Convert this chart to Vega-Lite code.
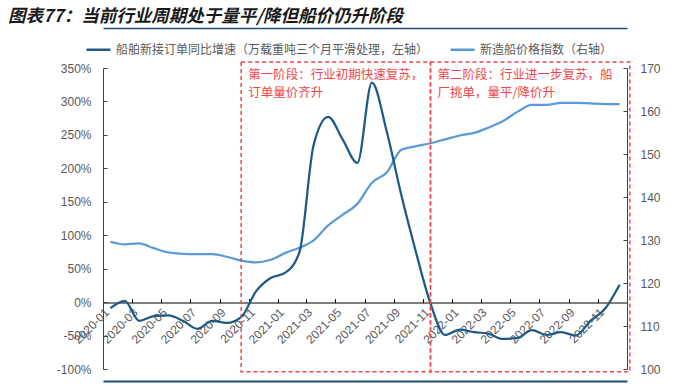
{
  "$schema": "https://vega.github.io/schema/vega-lite/v6.json",
  "width": 524,
  "height": 301,
  "autosize": "none",
  "padding": {"left": 103, "top": 68, "right": 69, "bottom": 17},
  "background": "white",
  "config": {
    "view": {"stroke": null},
    "font": "Noto Sans CJK SC",
    "axis": {"labelFont": "Liberation Sans", "labelFontSize": 12, "labelColor": "#595959", "grid": false, "title": null, "labelOverlap": false}
  },
  "title": {
    "text": "图表77：当前行业周期处于量平/降但船价仍升阶段",
    "anchor": "start",
    "frame": "group",
    "dx": -95,
    "offset": 3,
    "font": "Noto Sans CJK SC",
    "fontSize": 17.5,
    "fontWeight": "bold",
    "fontStyle": "italic",
    "color": "#1a1a1a"
  },
  "data": {
    "values": [
      {"m": "2020-01-01", "orders": -9, "price": 129.6},
      {"m": "2020-02-01", "orders": 2, "price": 129.0},
      {"m": "2020-03-01", "orders": -28, "price": 129.2},
      {"m": "2020-04-01", "orders": -21, "price": 128.1},
      {"m": "2020-05-01", "orders": -20, "price": 127.1},
      {"m": "2020-06-01", "orders": -28, "price": 126.8},
      {"m": "2020-07-01", "orders": -40, "price": 126.7},
      {"m": "2020-08-01", "orders": -28, "price": 126.7},
      {"m": "2020-09-01", "orders": -31, "price": 126.1},
      {"m": "2020-10-01", "orders": -22, "price": 125.2},
      {"m": "2020-11-01", "orders": 16, "price": 124.8},
      {"m": "2020-12-01", "orders": 36, "price": 125.4},
      {"m": "2021-01-01", "orders": 44, "price": 127.0},
      {"m": "2021-02-01", "orders": 75, "price": 128.2},
      {"m": "2021-03-01", "orders": 235, "price": 129.9},
      {"m": "2021-04-01", "orders": 277, "price": 133.4},
      {"m": "2021-05-01", "orders": 243, "price": 135.9},
      {"m": "2021-06-01", "orders": 208, "price": 138.4},
      {"m": "2021-07-01", "orders": 328, "price": 143.3},
      {"m": "2021-08-01", "orders": 255, "price": 145.7},
      {"m": "2021-09-01", "orders": 160, "price": 151.0},
      {"m": "2021-10-01", "orders": 75, "price": 151.8},
      {"m": "2021-11-01", "orders": -2, "price": 152.5},
      {"m": "2021-12-01", "orders": -49, "price": 153.4},
      {"m": "2022-01-01", "orders": -41, "price": 154.3},
      {"m": "2022-02-01", "orders": -45, "price": 154.9},
      {"m": "2022-03-01", "orders": -47, "price": 156.1},
      {"m": "2022-04-01", "orders": -55, "price": 157.6},
      {"m": "2022-05-01", "orders": -54, "price": 159.8},
      {"m": "2022-06-01", "orders": -42, "price": 161.4},
      {"m": "2022-07-01", "orders": -49, "price": 161.4},
      {"m": "2022-08-01", "orders": -45, "price": 161.9},
      {"m": "2022-09-01", "orders": -50, "price": 161.9},
      {"m": "2022-10-01", "orders": -28, "price": 161.8},
      {"m": "2022-11-01", "orders": -10, "price": 161.6},
      {"m": "2022-12-01", "orders": 26, "price": 161.6}
    ]
  },
  "resolve": {"scale": {"y": "independent"}, "axis": {"x": "independent"}},
  "layer": [
    {
      "mark": {"type": "line", "strokeWidth": 2.25, "interpolate": "monotone"},
      "encoding": {
        "x": {
          "field": "m", "type": "temporal", "timeUnit": "utcyearmonth", "bandPosition": 0.5,
          "scale": {"type": "utc", "domain": [{"year": 2020, "month": 1, "date": 1, "utc": true}, {"year": 2023, "month": 1, "date": 1, "utc": true}]},
          "axis": {"orient": "top", "offset": 40, "labels": false, "ticks": false, "domainColor": "#1f4e79", "domainWidth": 1.5}
        },
        "y": {
          "field": "price", "type": "quantitative",
          "scale": {"domain": [100, 170], "nice": false, "zero": false},
          "axis": {"orient": "right", "values": [100, 110, 120, 130, 140, 150, 160, 170], "domainColor": "#404040", "tickColor": "#404040", "tickSize": -4, "labelPadding": 17}
        },
        "color": {"datum": "新造船价格指数（右轴）"}
      }
    },
    {
      "resolve": {"axis": {"x": "independent"}},
      "layer": [
        {
          "mark": {"type": "line", "strokeWidth": 2.25, "interpolate": "monotone"},
          "encoding": {
            "x": {
              "field": "m", "type": "temporal", "timeUnit": "utcyearmonth", "bandPosition": 0.5,
              "scale": {"type": "utc"},
              "axis": {
                "orient": "bottom", "offset": -66.5, "format": "%Y-%m", "labelAngle": -45,
                "values": [
                  {"year": 2020, "month": 1, "date": 1, "utc": true}, {"year": 2020, "month": 3, "date": 1, "utc": true},
                  {"year": 2020, "month": 5, "date": 1, "utc": true}, {"year": 2020, "month": 7, "date": 1, "utc": true},
                  {"year": 2020, "month": 9, "date": 1, "utc": true}, {"year": 2020, "month": 11, "date": 1, "utc": true},
                  {"year": 2021, "month": 1, "date": 1, "utc": true}, {"year": 2021, "month": 3, "date": 1, "utc": true},
                  {"year": 2021, "month": 5, "date": 1, "utc": true}, {"year": 2021, "month": 7, "date": 1, "utc": true},
                  {"year": 2021, "month": 9, "date": 1, "utc": true}, {"year": 2021, "month": 11, "date": 1, "utc": true},
                  {"year": 2022, "month": 1, "date": 1, "utc": true}, {"year": 2022, "month": 3, "date": 1, "utc": true},
                  {"year": 2022, "month": 5, "date": 1, "utc": true}, {"year": 2022, "month": 7, "date": 1, "utc": true},
                  {"year": 2022, "month": 9, "date": 1, "utc": true}, {"year": 2022, "month": 11, "date": 1, "utc": true}
                ],
                "domainColor": "#000000", "tickColor": "#000000", "tickSize": -4, "labelPadding": 8, "labelFlush": false, "labelOverlap": false
              }
            },
            "y": {
              "field": "orders", "type": "quantitative",
              "scale": {"domain": [-100, 350], "nice": false},
              "axis": {"orient": "left", "values": [-100, -50, 0, 50, 100, 150, 200, 250, 300, 350], "labelExpr": "datum.value + '%'", "domainColor": "#404040", "tickColor": "#404040", "tickSize": -4, "labelPadding": 16, "labelOverlap": false}
            },
            "color": {
              "datum": "船舶新接订单同比增速（万载重吨三个月平滑处理，左轴）",
              "scale": {"domain": ["船舶新接订单同比增速（万载重吨三个月平滑处理，左轴）", "新造船价格指数（右轴）"], "range": ["#1d5b86", "#5b9bd5"]},
              "legend": {
                "orient": "none", "legendX": -18, "legendY": -32, "direction": "horizontal", "title": null,
                "symbolType": "stroke", "symbolSize": 576, "symbolStrokeWidth": 2.5,
                "labelFontSize": 12, "labelColor": "#595959", "labelLimit": 600, "columnPadding": 16, "labelFont": "Noto Sans CJK SC"
              }
            }
          }
        },
        {
          "data": {
            "values": [
              {"start": "2020-10-16", "end": "2021-11-16", "label": "第一阶段：行业初期快速复苏，\n订单量价齐升"},
              {"start": "2021-11-16", "end": "2023-01-07", "label": "第二阶段：行业进一步复苏，船\n厂挑单，量平/降价升"}
            ]
          },
          "layer": [
            {
              "mark": {"type": "rect", "fill": null, "stroke": "#f0464b", "strokeWidth": 1.5, "strokeDash": [4, 3], "clip": false},
              "encoding": {
                "x": {"field": "start", "type": "temporal", "scale": {"type": "utc"},
                  "axis": {"orient": "bottom", "offset": 12, "labels": false, "ticks": false, "domainColor": "#1f4e79", "domainWidth": 2}},
                "x2": {"field": "end"},
                "y": {"datum": 359, "type": "quantitative",
                  "axis": {"orient": "left", "values": [-100, -50, 0, 50, 100, 150, 200, 250, 300, 350], "labelExpr": "datum.value + '%'", "domainColor": "#404040", "tickColor": "#404040", "tickSize": -4, "labelPadding": 16, "labelOverlap": false}},
                "y2": {"datum": -104}
              }
            },
            {
              "mark": {"type": "text", "align": "left", "baseline": "top", "lineBreak": "\n", "lineHeight": 17.5, "dx": 7, "dy": 1, "fontSize": 12.5, "color": "#f0464b", "font": "Noto Sans CJK SC"},
              "encoding": {
                "x": {"field": "start", "type": "temporal", "scale": {"type": "utc"}},
                "y": {"datum": 350, "type": "quantitative",
                  "axis": {"orient": "left", "values": [-100, -50, 0, 50, 100, 150, 200, 250, 300, 350], "labelExpr": "datum.value + '%'", "domainColor": "#404040", "tickColor": "#404040", "tickSize": -4, "labelPadding": 16, "labelOverlap": false}},
                "text": {"field": "label"}
              }
            }
          ]
        }
      ]
    }
  ]
}
